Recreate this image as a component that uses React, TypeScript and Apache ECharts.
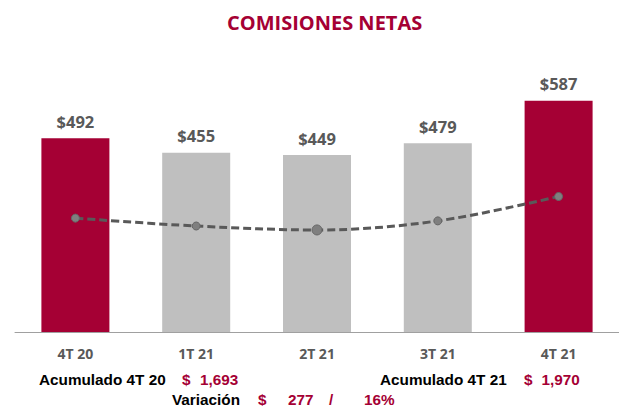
import React, { useEffect, useRef } from "react";
import * as echarts from "echarts";

const CATEGORIES = ["4T 20", "1T 21", "2T 21", "3T 21", "4T 21"];
const COMISIONES = [492, 455, 449, 479, 587];
const HIGHLIGHT = [true, false, false, false, true];
const TREND = [289, 269, 259, 282, 344];
const ACUM_LABELS = ["Acumulado 4T 20", "Acumulado 4T 21"];
const ACUM_VALUES = [1693, 1970];
const VARIACION = 277;
const VARIACION_PCT = 16;

const RED = "#a50034";
const GRAY = "#bfbfbf";
const DARK = "#595959";

const fmt = (n: number) => n.toLocaleString("en-US");

export default function App() {
  const ref = useRef<HTMLDivElement>(null);
  useEffect(() => {
    document.body.style.margin = "0";
    if (!ref.current) return;
    const chart = echarts.init(ref.current, null, { renderer: "svg" });
    const bold = (size: number, fam: string) => `bold ${size}px ${fam}`;
    const txt = (text: string, x: number, y: number, fill: string) => ({
      type: "text",
      x,
      y,
      style: {
        text,
        fill,
        font: bold(15.3, '"Liberation Sans", Arial, sans-serif'),
        verticalAlign: "middle",
        textVerticalAlign: "middle",
      },
    });
    chart.setOption({
      animation: false,
      grid: { left: 15, width: 610, top: 56.2, bottom: 74 },
      xAxis: {
        type: "category",
        data: CATEGORIES,
        axisLine: { lineStyle: { color: "#a0a0a0", width: 1 } },
        axisTick: { length: 4, lineStyle: { color: "#a0a0a0" } },
        axisLabel: {
          color: DARK,
          fontFamily: '"Open Sans"',
          fontWeight: "bold",
          fontSize: 14,
          lineHeight: 14,
          margin: 14,
        },
      },
      yAxis: { type: "value", min: 0, max: 700, show: false, splitLine: { show: false } },
      series: [
        {
          type: "bar",
          barWidth: 68,
          data: COMISIONES.map((v, i) => ({
            value: v,
            itemStyle: { color: HIGHLIGHT[i] ? RED : GRAY },
          })),
          label: {
            show: true,
            position: "top",
            distance: 9,
            formatter: "${c}",
            color: DARK,
            fontFamily: '"Open Sans"',
            fontWeight: "bold",
            fontSize: 16.5,
            lineHeight: 16,
          },
        },
        {
          type: "line",
          data: TREND,
          smooth: 0.35,
          symbol: "circle",
          symbolSize: (_v: any, p: any) => (p.dataIndex === 2 ? 10 : 8),
          itemStyle: { color: "#7f7f7f", borderColor: "#666", borderWidth: 1 },
          lineStyle: { color: DARK, width: 3, type: [8, 4] },
          z: 5,
        },
      ],
      graphic: [
        {
          type: "text",
          x: 227,
          y: 22.5,
          style: {
            text: "COMISIONES NETAS",
            fill: RED,
            font: bold(20, '"Open Sans"'),
            verticalAlign: "middle",
            textVerticalAlign: "middle",
          },
        },
        txt(ACUM_LABELS[0], 39, 379, "#000"),
        txt("$", 182, 379, RED),
        txt(fmt(ACUM_VALUES[0]), 200, 379, RED),
        txt(ACUM_LABELS[1], 380, 379, "#000"),
        txt("$", 524, 379, RED),
        txt(fmt(ACUM_VALUES[1]), 541.5, 379, RED),
        txt("Variación", 172, 399, "#000"),
        txt("$", 258, 399, RED),
        txt(fmt(VARIACION), 288, 399, RED),
        txt("/", 329, 399, RED),
        txt(`${VARIACION_PCT}%`, 364, 399, RED),
      ],
    });
    return () => chart.dispose();
  }, []);
  return <div ref={ref} style={{ width: 619, height: 406 }} />;
}
